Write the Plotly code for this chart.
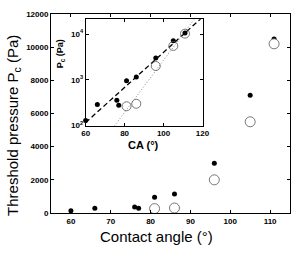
import numpy as np
import plotly.graph_objects as go

# Data
ca_filled = [60, 66, 76, 77, 81, 86, 96, 105, 111]
p_filled = [130, 290, 360, 280, 950, 1150, 3000, 7100, 10500]
ca_open = [81, 86, 96, 105, 111]
p_open = [265, 300, 2000, 5500, 10200]
x_ticks_main = [60, 70, 80, 90, 100, 110]
y_ticks_main = [0, 2000, 4000, 6000, 8000, 10000, 12000]
x_ticks_inset = [60, 80, 100, 120]
y_ticks_inset = [100, 1000, 10000]
y_ticks_inset_text = ["10<sup>2</sup>", "10<sup>3</sup>", "10<sup>4</sup>"]

# exponential fits (log-linear) for inset lines
fit_x = np.array([60, 120])
bf = np.polyfit(ca_filled, np.log10(p_filled), 1)
bo = np.polyfit(ca_open, np.log10(p_open), 1)
fit_f = 10 ** np.polyval(bf, fit_x)
fit_o = 10 ** np.polyval(bo, fit_x)

FONT = "Liberation Sans"
fig = go.Figure()

# main plot
fig.add_trace(go.Scatter(x=ca_filled, y=p_filled, mode="markers",
                         marker=dict(color="black", size=5), xaxis="x", yaxis="y",
                         showlegend=False, cliponaxis=False))
fig.add_trace(go.Scatter(x=ca_open, y=p_open, mode="markers",
                         marker=dict(color="white", size=10, line=dict(color="#555", width=0.8)),
                         xaxis="x", yaxis="y", showlegend=False, cliponaxis=False))

# inset
fig.add_trace(go.Scatter(x=fit_x, y=fit_f, mode="lines",
                         line=dict(color="black", width=1.3, dash="5px,3px"),
                         xaxis="x2", yaxis="y2", showlegend=False))
fig.add_trace(go.Scatter(x=fit_x, y=fit_o, mode="lines",
                         line=dict(color="#888", width=1, dash="1px,2px"),
                         xaxis="x2", yaxis="y2", showlegend=False))
fig.add_trace(go.Scatter(x=ca_filled, y=p_filled, mode="markers",
                         marker=dict(color="black", size=5), xaxis="x2", yaxis="y2",
                         showlegend=False, cliponaxis=False))
fig.add_trace(go.Scatter(x=ca_open, y=p_open, mode="markers",
                         marker=dict(color="rgba(0,0,0,0)", size=9, line=dict(color="#555", width=0.8)),
                         xaxis="x2", yaxis="y2", showlegend=False, cliponaxis=False))

axis_common = dict(showgrid=False, zeroline=False, showline=True, linecolor="black",
                   linewidth=1, mirror="ticks", ticks="inside", ticklen=3,
                   tickcolor="black", exponentformat="none",
                   tickfont=dict(family=FONT, size=8, color="black", weight="bold"))

IX = [0.145, 0.634]
IY = [0.439, 0.973]

fig.update_layout(
    width=307, height=254,
    margin=dict(l=51, r=9.5, t=9.5, b=41.3),
    paper_bgcolor="white", plot_bgcolor="white",
    xaxis=dict(range=[55, 115], tickvals=x_ticks_main, domain=[0, 1], **axis_common),
    yaxis=dict(range=[0, 12000], tickvals=y_ticks_main, tickformat="d", domain=[0, 1], **axis_common),
    xaxis2=dict(range=[60, 120], tickvals=x_ticks_inset, anchor="y2",
                domain=IX, **axis_common),
    yaxis2=dict(type="log", range=[2, 4.32], tickvals=y_ticks_inset,
                ticktext=y_ticks_inset_text, anchor="x2",
                domain=IY, **axis_common),
    shapes=[dict(type="rect", xref="paper", yref="paper", x0=IX[0], x1=IX[1],
                 y0=IY[0], y1=IY[1], fillcolor="white", line=dict(width=0), layer="below")],
    annotations=[
        dict(text="Contact angle (°)", xref="paper", yref="paper", x=0.442, y=-0.12,
             xanchor="center", yanchor="middle", showarrow=False,
             font=dict(family=FONT, size=15, color="black")),
        dict(text="Threshold pressure P<sub>c</sub> (Pa)", xref="paper", yref="paper",
             x=-0.157, y=0.44, xanchor="center", yanchor="middle", textangle=-90,
             showarrow=False, font=dict(family=FONT, size=15, color="black")),
        dict(text="<b>CA (°)</b>", xref="paper", yref="paper", x=0.385, y=0.344,
             xanchor="center", yanchor="middle", showarrow=False,
             font=dict(family=FONT, size=11, color="black")),
        dict(text="<b>P<sub>c</sub> (Pa)</b>", xref="paper", yref="paper", x=0.04, y=0.80,
             xanchor="center", yanchor="middle", textangle=-90, showarrow=False,
             font=dict(family=FONT, size=9, color="black")),
    ],
)

fig.write_html("out.html", config={"displayModeBar": False},
               post_script="document.body.style.margin='0px';")
